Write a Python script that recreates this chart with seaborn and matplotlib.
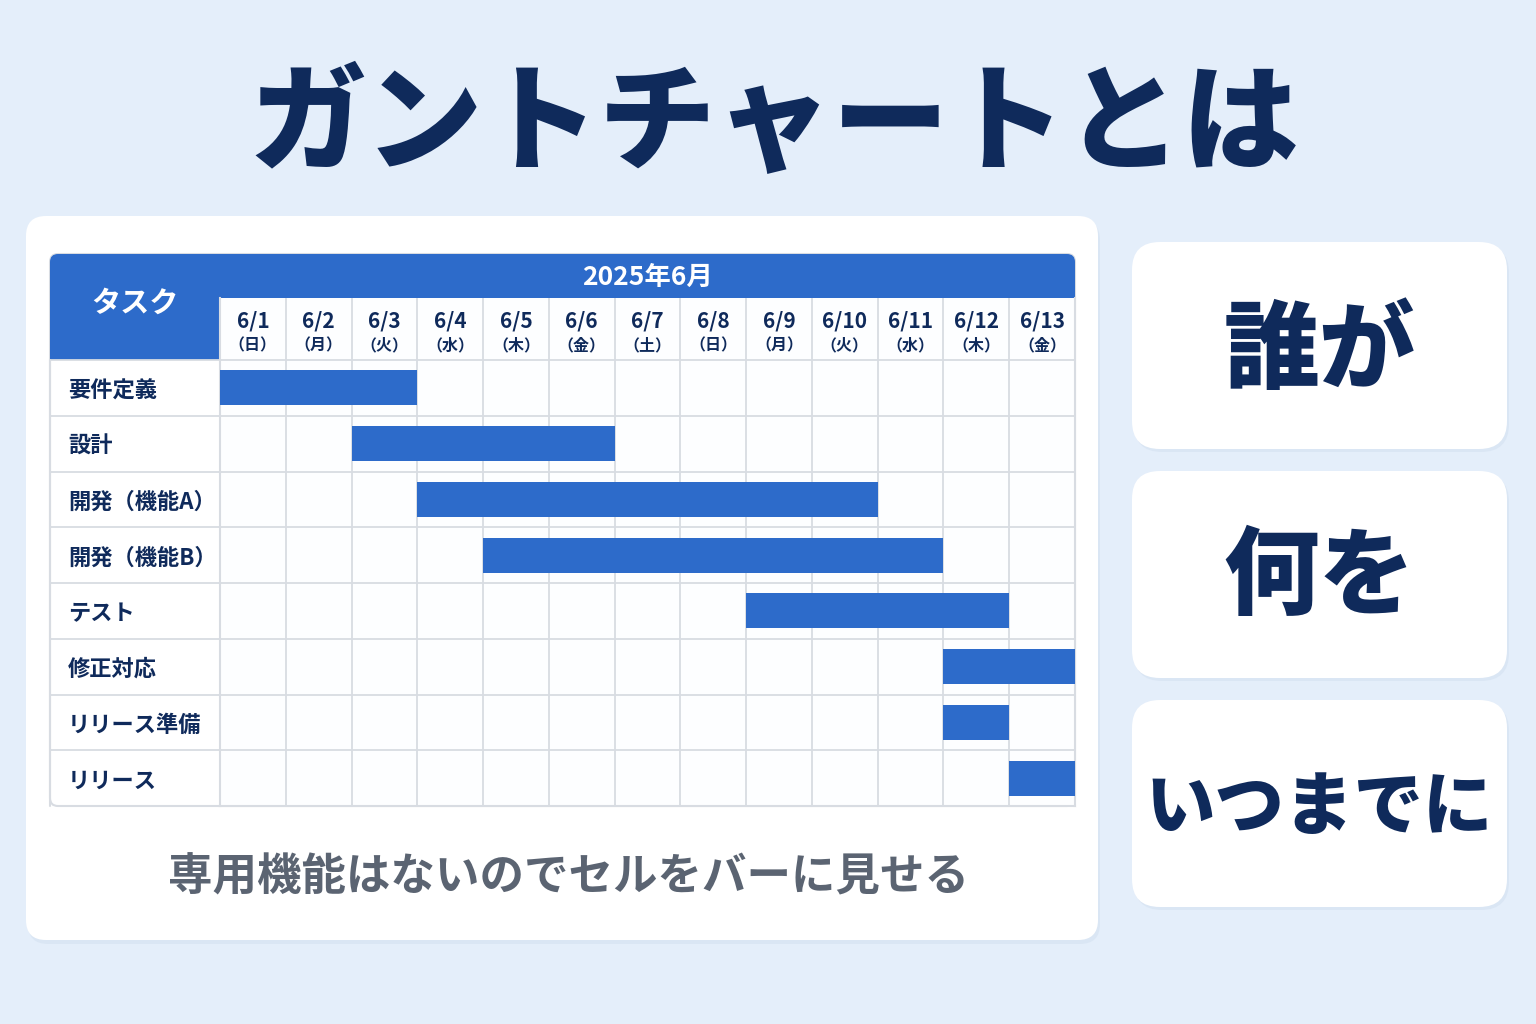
import matplotlib.pyplot as plt
import matplotlib.patches as mpatches
from matplotlib.transforms import blended_transform_factory
import pandas as pd
import seaborn as sns

# ------------------------------------------
# data
# ------------------------------------------

tasks = [
    "要件定義", "設計", "開発（機能A）", "開発（機能B）",
    "テスト", "修正対応", "リリース準備", "リリース",
]
start_day = [0, 2, 3, 4, 8, 11, 11, 12]
duration = [3, 4, 7, 7, 4, 2, 1, 1]

dates = ["6/1", "6/2", "6/3", "6/4", "6/5", "6/6", "6/7",
         "6/8", "6/9", "6/10", "6/11", "6/12", "6/13"]
weekdays = ["日", "月", "火", "水", "木", "金", "土",
            "日", "月", "火", "水", "木", "金"]

month_label = "2025年6月"
task_header = "タスク"
title = "ガントチャートとは"
subtitle = "専用機能はないのでセルをバーに見せる"
cards = ["誰が", "何を", "いつまでに"]

df = pd.DataFrame({
    "task": tasks,
    "start": start_day,
    "duration": duration,
})

# ------------------------------------------
# style
# ------------------------------------------

sns.set_theme(style="white")
plt.rcParams["font.family"] = ["Noto Sans CJK JP", "DejaVu Sans"]

BG = "#E4EEFA"
NAVY = "#0F2A5B"
BLUE = "#2D6BCA"
GRID = "#D8DCE2"
GREY_TXT = "#5B6472"

W, H = 1536, 1024
fig = plt.figure(figsize=(W / 100, H / 100), dpi=100, facecolor=BG)

# background layer in pixel coordinates
bg = fig.add_axes([0, 0, 1, 1], zorder=0)
bg.set_facecolor(BG)
bg.axis("off")

# title
bg.text(774, 127, title, ha="center", va="center",
        fontsize=84, fontweight="heavy", color=NAVY)

# main white panel with soft shadow
bg.add_patch(mpatches.FancyBboxPatch(
    (28, 220), 1072, 724,
    boxstyle="round,pad=0,rounding_size=20",
    facecolor="#C9D8EA", edgecolor="none", alpha=0.35))
bg.add_patch(mpatches.FancyBboxPatch(
    (26, 216), 1072, 724,
    boxstyle="round,pad=0,rounding_size=20",
    facecolor="white", edgecolor="none"))

# table frame and blue header
bg.add_patch(mpatches.FancyBboxPatch(
    (50, 254), 1025, 552,
    boxstyle="round,pad=0,rounding_size=8",
    facecolor="white", edgecolor=GRID, linewidth=1.5))
bg.add_patch(mpatches.FancyBboxPatch(
    (50, 254), 1025, 106,
    boxstyle="round,pad=0,rounding_size=8",
    facecolor=BLUE, edgecolor="none"))
bg.add_patch(mpatches.Rectangle(
    (50, 320), 170, 40, facecolor=BLUE, edgecolor="none"))

bg.text(135, 303, task_header, ha="center", va="center",
        fontsize=21, fontweight="bold", color="white")
bg.text(647, 277, month_label, ha="center", va="center",
        fontsize=19, fontweight="bold", color="white")

# subtitle
bg.text(569, 877, subtitle, ha="center", va="center",
        fontsize=32, fontweight="bold", color=GREY_TXT)

# right side cards
card_tops = [242, 471, 700]
card_sizes = [69, 69, 50]
card_dy = [110, 108, 108]
for text, top, fs, dy in zip(cards, card_tops, card_sizes, card_dy):
    bg.add_patch(mpatches.FancyBboxPatch(
        (1134, top + 3), 375, 207,
        boxstyle="round,pad=0,rounding_size=28",
        facecolor="#C9D8EA", edgecolor="none", alpha=0.35))
    bg.add_patch(mpatches.FancyBboxPatch(
        (1132, top), 375, 207,
        boxstyle="round,pad=0,rounding_size=28",
        facecolor="white", edgecolor="none"))
    bg.text(1319, top + dy, text, ha="center", va="center",
            fontsize=fs, fontweight="heavy", color=NAVY)

# ------------------------------------------
# gantt grid (date row + task rows)
# ------------------------------------------

row_h = (806 - 360) / len(tasks)
head_rows = (360 - 298) / row_h

ax = fig.add_axes(
    [220 / W, 1 - 806 / H, 855 / W, (806 - 298) / H], zorder=2)

sns.barplot(
    data=df,
    x="duration",
    y="task",
    orient="y",
    left=df["start"],
    color=BLUE,
    saturation=1,
    width=0.63,
    errorbar=None,
    linewidth=0,
    zorder=3,
    ax=ax,
)

ax.set_xlim(0, len(dates))
ax.set_ylim(len(tasks) - 0.5, -0.5 - head_rows)
ax.set_facecolor("#FDFEFF")
ax.set_xlabel("")
ax.set_ylabel("")
ax.set_xticks([])
ax.set_yticks([])

ax.spines["top"].set_visible(False)
for s in ["left", "right", "bottom"]:
    ax.spines[s].set_color(GRID)
    ax.spines[s].set_linewidth(1.5)

for i in range(1, len(dates)):
    ax.axvline(i, color=GRID, linewidth=1.3, zorder=1)
for j in range(len(tasks)):
    ax.axhline(j - 0.5, color=GRID, linewidth=1.3, zorder=1)

# row lines run across the task column as well
row_tr = blended_transform_factory(bg.transData, ax.transData)
for j in range(len(tasks)):
    bg.plot([50, 1075], [j - 0.5, j - 0.5], transform=row_tr,
            color=GRID, linewidth=1.3, scalex=False, scaley=False)
bg.plot([50, 50], [-0.5, len(tasks) - 0.5], transform=row_tr,
        color=GRID, linewidth=1.5, scalex=False, scaley=False)

# date header
date_y = -0.5 - head_rows + 23 / row_h
wday_y = -0.5 - head_rows + 47 / row_h
for i, (d, w) in enumerate(zip(dates, weekdays)):
    ax.text(i + 0.5, date_y, d, ha="center", va="center",
            fontsize=15, fontweight="bold", color=NAVY)
    ax.text(i + 0.5, wday_y, "（" + w + "）", ha="center", va="center",
            fontsize=11.5, fontweight="bold", color=NAVY)

# task labels
for j, t in enumerate(tasks):
    bg.text(68, j + 0.05, t, transform=row_tr, ha="left", va="center",
            fontsize=16, fontweight="bold", color=NAVY)

bg.set_xlim(0, W)
bg.set_ylim(H, 0)

plt.savefig("out.png", dpi=100, facecolor=BG)
plt.close()
